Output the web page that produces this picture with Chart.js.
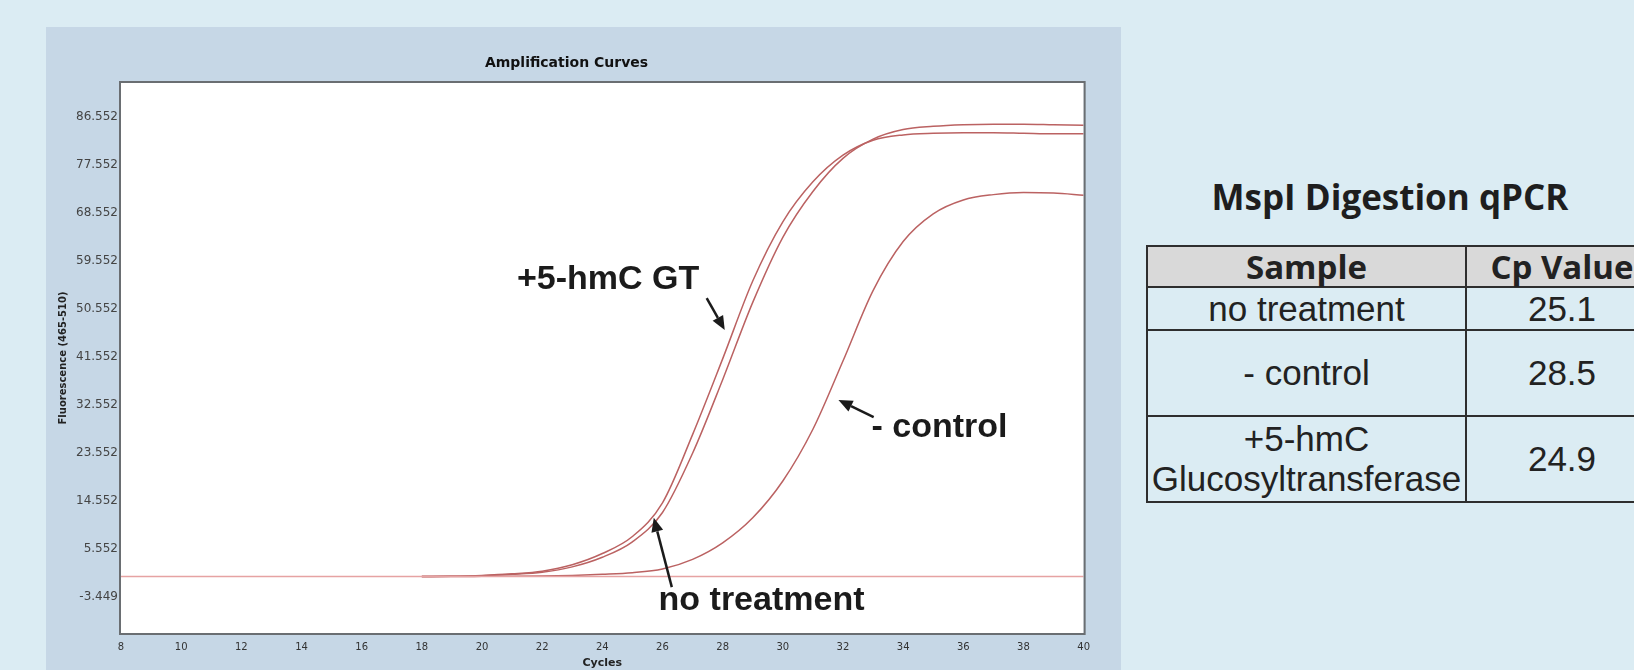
<!DOCTYPE html>
<html>
<head>
<meta charset="utf-8">
<script src="https://cdn.jsdelivr.net/npm/chart.js@4.4.1/dist/chart.umd.min.js"></script>
<style>
  html, body {
    margin: 0;
    padding: 0;
    width: 1634px;
    height: 670px;
    overflow: hidden;
    background: #dbecf3;
  }
  #panel {
    position: absolute;
    left: 46px;
    top: 27px;
    width: 1075px;
    height: 660px;
    background: #c6d7e6;
  }
  #chartBox {
    position: absolute;
    left: 46px;
    top: 27px;
    width: 1052px;
    height: 643px;
  }
  #tableTitle {
    position: absolute;
    left: 1190px;
    top: 176px;
    width: 400px;
    text-align: center;
    font: bold 35px "Open Sans", sans-serif;
    line-height: 42px;
    color: #1e1e1e;
  }
  #cpTable {
    position: absolute;
    left: 1146px;
    top: 245px;
    width: 511px;
    table-layout: fixed;
    border-collapse: collapse;
    font: 35px "Liberation Sans", Arial, sans-serif;
    color: #222;
  }
  #cpTable td, #cpTable th {
    border: 2px solid #2e2e2e;
    padding: 0;
    text-align: center;
    line-height: 40px;
    white-space: nowrap;
    overflow: visible;
  }
  #cpTable th {
    background: #d9d9d9;
    font: bold 33px "Open Sans", sans-serif;
    line-height: 38px;
    height: 39px;
  }
</style>
</head>
<body>
<div id="panel"></div>
<div id="chartBox"><canvas id="ampChart"></canvas></div>
<div id="tableTitle">MspI Digestion qPCR</div>
<table id="cpTable"></table>

<script>
// --------------------------------------------------
// Data
// --------------------------------------------------
const cycles = [18, 19, 20, 21, 22, 23, 24, 25, 26, 27, 28, 29, 30, 31, 32, 33, 34, 35, 36, 37, 38, 39, 40];

const gtCurve = [0.4, 0.45, 0.6, 0.9, 1.4, 2.6, 4.7, 7.9, 14.2, 27.0, 41.2, 55.8, 66.9, 74.4, 79.4, 82.2, 83.2, 83.5, 83.6, 83.6, 83.5, 83.4, 83.4];
const noTreatmentCurve = [0.4, 0.45, 0.55, 0.8, 1.2, 2.2, 4.0, 6.9, 12.4, 23.5, 37.3, 51.8, 64.0, 72.6, 78.8, 82.4, 84.2, 84.8, 85.1, 85.2, 85.2, 85.1, 85.0];
const controlCurve = [0.4, 0.4, 0.42, 0.45, 0.5, 0.6, 0.8, 1.1, 1.8, 3.6, 6.7, 11.4, 18.3, 28.0, 40.8, 54.0, 63.2, 68.4, 71.0, 72.0, 72.4, 72.3, 71.9];

const flatCycles = [8, 40];
const flatCurve = [0.4, 0.4];

const xTicks = [8, 10, 12, 14, 16, 18, 20, 22, 24, 26, 28, 30, 32, 34, 36, 38, 40];
const yTicks = [-3.448, 5.552, 14.552, 23.552, 32.552, 41.552, 50.552, 59.552, 68.552, 77.552, 86.552];
const yTickLabels = ["-3.449", "5.552", "14.552", "23.552", "32.552", "41.552", "50.552", "59.552", "68.552", "77.552", "86.552"];

// annotation labels and arrows, in cycles / fluorescence units
const noteTexts = ["+5-hmC GT", "- control", "no treatment"];
const notePos = [[21.16, 56.0], [32.95, 28.4], [25.87, -4.2]];
const arrowFrom = [[27.47, 52.6], [33.02, 30.3], [26.31, -1.6]];
const arrowTo = [[28.07, 46.6], [31.85, 33.5], [25.71, 11.4]];

// table on the right
const tableHeaders = ["Sample", "Cp Value"];
const tableSamples = ["no treatment", "- control", "+5-hmC<br>Glucosyltransferase"];
const tableCp = ["25.1", "28.5", "24.9"];
const tableRowHeights = [43, 86, 86];

// --------------------------------------------------
// Table
// --------------------------------------------------
function buildTable() {
  const table = document.getElementById("cpTable");
  let html = `<colgroup><col style="width:319px"><col style="width:192px"></colgroup>`;
  html += `<tr><th>${tableHeaders[0]}</th><th>${tableHeaders[1]}</th></tr>`;
  tableSamples.forEach((s, i) => {
    html += `<tr style="height:${tableRowHeights[i]}px"><td>${s}</td><td>${tableCp[i]}</td></tr>`;
  });
  table.innerHTML = html;
}

// --------------------------------------------------
// Plugins: white plot area + frame, annotations
// --------------------------------------------------
const plotFrame = {
  id: "plotFrame",
  beforeDraw(chart) {
    const { ctx, chartArea: a } = chart;
    ctx.save();
    ctx.fillStyle = "#ffffff";
    ctx.fillRect(a.left, a.top, a.right - a.left, a.bottom - a.top);
    ctx.restore();
  },
  afterDraw(chart) {
    const { ctx, chartArea: a } = chart;
    ctx.save();
    ctx.strokeStyle = "#6a6e72";
    ctx.lineWidth = 2;
    ctx.strokeRect(a.left - 1, a.top - 1, a.right - a.left + 2, a.bottom - a.top + 2);
    ctx.restore();
  },
};

function drawArrow(ctx, x1, y1, x2, y2) {
  const ang = Math.atan2(y2 - y1, x2 - x1);
  const head = 14;
  const half = 6;
  const bx = x2 - head * Math.cos(ang);
  const by = y2 - head * Math.sin(ang);
  ctx.beginPath();
  ctx.moveTo(x1, y1);
  ctx.lineTo(bx, by);
  ctx.stroke();
  ctx.beginPath();
  ctx.moveTo(x2, y2);
  ctx.lineTo(bx + half * Math.sin(ang), by - half * Math.cos(ang));
  ctx.lineTo(bx - half * Math.sin(ang), by + half * Math.cos(ang));
  ctx.closePath();
  ctx.fill();
}

const notes = {
  id: "notes",
  afterDatasetsDraw(chart) {
    const { ctx, scales } = chart;
    const xs = scales.x;
    const ys = scales.y;
    ctx.save();
    ctx.fillStyle = "#1b1b1b";
    ctx.strokeStyle = "#1b1b1b";
    ctx.lineWidth = 2.5;
    ctx.font = 'bold 34px "Liberation Sans", Arial, sans-serif';
    ctx.textAlign = "left";
    ctx.textBaseline = "middle";
    noteTexts.forEach((t, i) => {
      ctx.fillText(t, xs.getPixelForValue(notePos[i][0]), ys.getPixelForValue(notePos[i][1]));
      drawArrow(
        ctx,
        xs.getPixelForValue(arrowFrom[i][0]),
        ys.getPixelForValue(arrowFrom[i][1]),
        xs.getPixelForValue(arrowTo[i][0]),
        ys.getPixelForValue(arrowTo[i][1])
      );
    });
    ctx.restore();
  },
};

// --------------------------------------------------
// Chart
// --------------------------------------------------
function toPoints(xsArr, ysArr) {
  return xsArr.map((x, i) => ({ x, y: ysArr[i] }));
}

function buildChart() {
  const ctx = document.getElementById("ampChart");
  const curveStyle = {
    borderColor: "#bb6262",
    borderWidth: 1.5,
    pointRadius: 0,
    fill: false,
    cubicInterpolationMode: "monotone",
  };

  new Chart(ctx, {
    type: "line",
    data: {
      datasets: [
        {
          label: "baseline",
          data: toPoints(flatCycles, flatCurve),
          borderColor: "#e6a3a3",
          borderWidth: 1.6,
          pointRadius: 0,
          fill: false,
        },
        { label: "+5-hmC GT", data: toPoints(cycles, gtCurve), ...curveStyle },
        { label: "no treatment", data: toPoints(cycles, noTreatmentCurve), ...curveStyle },
        { label: "- control", data: toPoints(cycles, controlCurve), ...curveStyle },
      ],
    },
    options: {
      responsive: true,
      maintainAspectRatio: false,
      animation: false,
      layout: { padding: { left: 0, right: 11, top: 0, bottom: 0 } },
      plugins: {
        legend: { display: false },
        tooltip: { enabled: false },
        title: {
          display: true,
          text: "Amplification Curves",
          color: "#111",
          font: { family: "DejaVu Sans", size: 14, weight: "bold", lineHeight: 1.2 },
          padding: { top: 28, bottom: 11.2 },
        },
      },
      scales: {
        x: {
          type: "linear",
          min: 8,
          max: 40,
          grid: { display: false, drawTicks: false },
          border: { display: false },
          afterBuildTicks: (scale) => {
            scale.ticks = xTicks.map((v) => ({ value: v }));
          },
          afterFit: (scale) => {
            scale.height = 37;
          },
          ticks: {
            autoSkip: false,
            maxRotation: 0,
            padding: 8,
            color: "#333",
            font: { family: "DejaVu Sans", size: 10 },
          },
          title: {
            display: true,
            text: "Cycles",
            color: "#222",
            font: { family: "DejaVu Sans", size: 11, weight: "bold", lineHeight: 1.2 },
            padding: { top: 0, bottom: 0 },
          },
        },
        y: {
          type: "linear",
          min: -10.2,
          max: 92.93,
          grid: { display: false, drawTicks: false },
          border: { display: false },
          afterBuildTicks: (scale) => {
            scale.ticks = yTicks.map((v) => ({ value: v }));
          },
          afterFit: (scale) => {
            scale.width = 75;
          },
          ticks: {
            autoSkip: false,
            padding: 3,
            color: "#444",
            font: { family: "DejaVu Sans", size: 12 },
            callback: (value, index) => yTickLabels[index],
          },
          title: {
            display: true,
            text: "Fluorescence (465-510)",
            color: "#222",
            font: { family: "DejaVu Sans", size: 10, weight: "bold", lineHeight: 1.2 },
            padding: { top: 11, bottom: 0 },
          },
        },
      },
    },
    plugins: [plotFrame, notes],
  });
}

document.addEventListener("DOMContentLoaded", () => {
  buildTable();
  buildChart();
});
</script>
</body>
</html>
